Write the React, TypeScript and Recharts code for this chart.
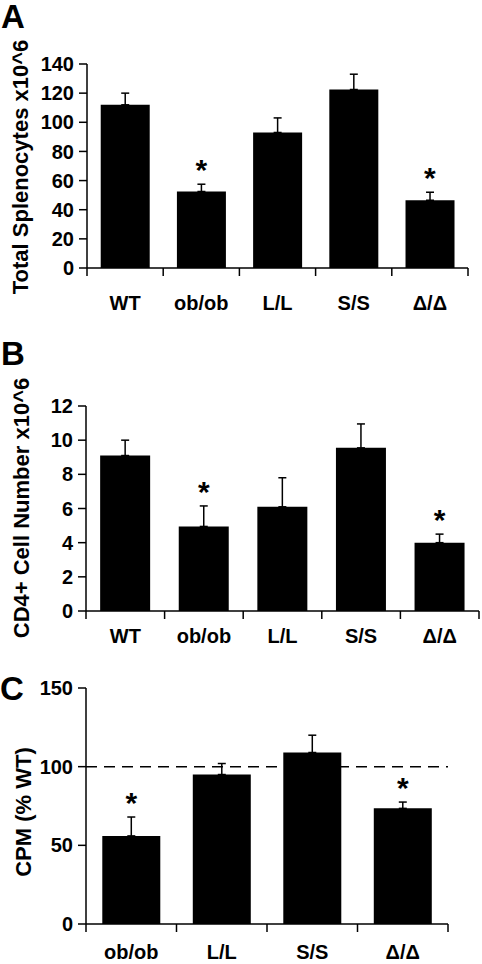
import React from 'react';
import { ComposedChart, Bar, ErrorBar, Line, XAxis, YAxis, ReferenceLine } from 'recharts';

const FONT = '"Liberation Sans", Arial, Helvetica, sans-serif';

// Panel A - total splenocytes (x10^6)
const genotypes = ['WT', 'ob/ob', 'L/L', 'S/S', 'Δ/Δ'];
const splenocytes = [112, 52.5, 93, 122.5, 46.5];
const splenocytesSem = [8, 5, 10, 10.5, 5.5];
const splenocytesSig = [false, true, false, false, true];
const splenocyteTicks = [0, 20, 40, 60, 80, 100, 120, 140];

// Panel B - CD4+ cell number (x10^6)
const cd4Number = [9.1, 4.95, 6.1, 9.55, 4.0];
const cd4Sem = [0.9, 1.2, 1.7, 1.4, 0.5];
const cd4Sig = [false, true, false, false, true];
const cd4Ticks = [0, 2, 4, 6, 8, 10, 12];

// Panel C - proliferation, CPM as % of WT
const cpmGenotypes = ['ob/ob', 'L/L', 'S/S', 'Δ/Δ'];
const cpmPctWt = [56, 95, 109, 73.5];
const cpmSem = [12, 7, 11, 4];
const cpmSig = [true, false, false, true];
const cpmTicks = [0, 50, 100, 150];

function buildRows(names: string[], values: number[], sem: number[], sig: boolean[]) {
  return names.map((name, i) => ({
    name,
    value: values[i],
    err: [0, sem[i]],
    top: values[i] + sem[i],
    sig: sig[i],
  }));
}

function makeGenotypeTick(count: number, bandHalf: number, labelDy: number) {
  return (props: any) => {
    const { x, y, payload, index } = props;
    const half = payload && payload.offset ? payload.offset : bandHalf;
    return (
      <g>
        <line x1={x - half} x2={x - half} y1={y} y2={y + 8} stroke="#000" strokeWidth={1.5} />
        {index === count - 1 && (
          <line x1={x + half} x2={x + half} y1={y} y2={y + 8} stroke="#000" strokeWidth={1.5} />
        )}
        <text x={x} y={y + labelDy} textAnchor="middle" fontFamily={FONT} fontWeight="bold" fontSize={20} fill="#000">
          {payload.value}
        </text>
      </g>
    );
  };
}

function starDot(props: any) {
  const { cx, cy, payload, index } = props;
  if (!payload || !payload.sig || cx == null || cy == null) return <g key={`s-${index}`} />;
  return (
    <text key={`s-${index}`} x={cx} y={cy - 4} textAnchor="middle" fontFamily={FONT} fontWeight="bold" fontSize={30} fill="#000">
      *
    </text>
  );
}

type PanelProps = {
  top: number;
  height: number;
  margin: { top: number; right: number; bottom: number; left: number };
  yWidth: number;
  xHeight: number;
  rows: any[];
  domain: [number, number];
  ticks: number[];
  labelDy: number;
  refY?: number;
};

function Panel({ top, height, margin, yWidth, xHeight, rows, domain, ticks, labelDy, refY }: PanelProps) {
  const width = 482;
  const bandHalf = (width - margin.left - margin.right - yWidth) / rows.length / 2;
  return (
    <div style={{ position: 'absolute', left: 0, top }}>
      <ComposedChart width={width} height={height} data={rows} margin={margin} barCategoryGap="18%">
        <XAxis
          dataKey="name"
          height={xHeight}
          interval={0}
          tickSize={0}
          tickMargin={0}
          tickLine={false}
          axisLine={{ stroke: '#000', strokeWidth: 1.5 }}
          tick={makeGenotypeTick(rows.length, bandHalf, labelDy)}
        />
        <YAxis
          width={yWidth}
          domain={domain}
          ticks={ticks}
          interval={0}
          tickSize={8}
          tickMargin={5}
          tickLine={{ stroke: '#000', strokeWidth: 1.5 }}
          axisLine={{ stroke: '#000', strokeWidth: 1.5 }}
          tick={{ fill: '#000', fontSize: 20, fontWeight: 'bold', fontFamily: FONT }}
        />
        {refY !== undefined && (
          <ReferenceLine y={refY} stroke="#000" strokeWidth={1.5} strokeDasharray="11 7" />
        )}
        <Bar dataKey="value" fill="#000" isAnimationActive={false}>
          <ErrorBar dataKey="err" direction="y" width={4} stroke="#000" strokeWidth={1.5} isAnimationActive={false} />
        </Bar>
        <Line
          dataKey="top"
          stroke="none"
          dot={starDot}
          activeDot={false}
          legendType="none"
          isAnimationActive={false}
        />
      </ComposedChart>
    </div>
  );
}

export default function App() {
  const rowsA = buildRows(genotypes, splenocytes, splenocytesSem, splenocytesSig);
  const rowsB = buildRows(genotypes, cd4Number, cd4Sem, cd4Sig);
  const rowsC = buildRows(cpmGenotypes, cpmPctWt, cpmSem, cpmSig);

  return (
    <div style={{ position: 'absolute', left: 0, top: 0, width: 482, height: 964, background: '#fff', overflow: 'hidden' }}>
      <Panel
        top={0}
        height={320}
        margin={{ top: 64, right: 14, bottom: 0, left: 0 }}
        yWidth={87}
        xHeight={52}
        rows={rowsA}
        domain={[0, 140]}
        ticks={splenocyteTicks}
        labelDy={42}
      />
      <Panel
        top={320}
        height={330}
        margin={{ top: 86, right: 3, bottom: 0, left: 0 }}
        yWidth={86}
        xHeight={39}
        rows={rowsB}
        domain={[0, 12]}
        ticks={cd4Ticks}
        labelDy={32}
      />
      <Panel
        top={650}
        height={314}
        margin={{ top: 38, right: 34, bottom: 0, left: 0 }}
        yWidth={86}
        xHeight={40}
        rows={rowsC}
        domain={[0, 150]}
        ticks={cpmTicks}
        labelDy={35}
        refY={100}
      />
      <svg width={482} height={964} style={{ position: 'absolute', left: 0, top: 0, pointerEvents: 'none' }}>
        <g fontFamily={FONT} fontWeight="bold" fill="#000">
          <text x={1} y={28} fontSize={33}>A</text>
          <text x={1} y={365} fontSize={33}>B</text>
          <text x={0} y={700} fontSize={33}>C</text>
          <text transform="translate(28,167) rotate(-90)" textAnchor="middle" fontSize={22}>Total Splenocytes x10^6</text>
          <text transform="translate(29,508) rotate(-90)" textAnchor="middle" fontSize={22}>CD4+ Cell Number x10^6</text>
          <text transform="translate(31,812) rotate(-90)" textAnchor="middle" fontSize={22}>CPM (% WT)</text>
        </g>
      </svg>
    </div>
  );
}
